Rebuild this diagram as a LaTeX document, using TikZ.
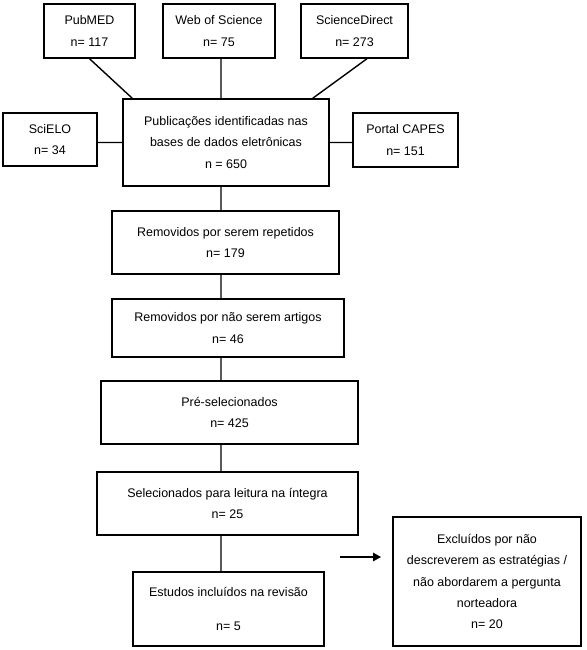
\documentclass[tikz,border=0pt]{standalone}
\usepackage{fontspec}
\setmainfont{Liberation Sans}
\usepackage{tikz}
\usetikzlibrary{arrows.meta, positioning}

\begin{document}
\begin{tikzpicture}[x=0.02cm, y=-0.02cm, line width=0.8pt,
        box/.style={draw, align=center, inner sep=0pt,
            font=\fontsize{7.1}{12.2}\selectfont},
        link/.style={draw, line width=0.8pt}]
        \useasboundingbox (0,0) rectangle (586,650);
        \coordinate (spine) at (221,0);

        % bases de dados
        \node[box, minimum width=1.82cm, minimum height=1.08cm] (pub) at (89.5,31) {PubMED\\n= 117};
        \node[box, minimum width=2.24cm, minimum height=1.08cm] (wos) at (219,31) {Web of Science\\n= 75};
        \node[box, minimum width=2.14cm, minimum height=1.08cm] (sd) at (354.5,31) {ScienceDirect\\n= 273};
        \node[box, minimum width=1.88cm, minimum height=1.06cm] (sci) at (50,139.5) {SciELO\\n= 34};
        \node[box, minimum width=2.10cm, minimum height=1.08cm] (cap) at (405.5,140) {Portal CAPES\\n= 151};
        \node[box, minimum width=4.12cm, minimum height=1.74cm] (ident) at (226,142.5) {Publicações identificadas nas\\bases de dados eletrônicas\\n = 650};

        % triagem
        \node[box, minimum width=4.54cm, minimum height=1.26cm] (rep) at (225.5,242.5) {Removidos por serem repetidos\\n= 179};
        \node[box, minimum width=4.64cm, minimum height=1.16cm] (nart) at (228,328) {Removidos por não serem artigos\\n= 46};
        \node[box, minimum width=5.14cm, minimum height=1.26cm] (pre) at (229.5,412.5) {Pré-selecionados\\n= 425};
        \node[box, minimum width=5.22cm, minimum height=1.26cm] (sel) at (227.5,503.5) {Selecionados para leitura na íntegra\\n= 25};
        \node[box, minimum width=3.82cm, minimum height=1.48cm] (incl) at (228.5,609) {Estudos incluídos na revisão\\[0.25cm]n= 5};
        \node[box, minimum width=3.76cm, minimum height=2.58cm] (excl) at (487,581.5) {Excluídos por não\\descreverem as estratégias /\\não abordarem a pergunta\\norteadora\\n= 20};

        \coordinate (exa) at (340,557);
        \coordinate (exb) at (381,557);

        \path[link]
        (pub.south) -- ([xshift=0.2cm]ident.north west)
        (wos.south -| spine) -- (ident.north -| spine)
        ([xshift=0.25cm]sd.south) -- ([xshift=-0.34cm]ident.north east)
        (sci.east |- ident.west) -- (ident.west)
        (ident.east) -- (cap.west |- ident.east)
        (ident.south -| spine) -- (rep.north -| spine)
        (rep.south -| spine) -- (nart.north -| spine)
        (nart.south -| spine) -- (pre.north -| spine)
        (pre.south -| spine) -- (sel.north -| spine)
        (sel.south -| spine) -- (incl.north -| spine);
        \draw[-{Triangle[length=4.5pt,width=4.8pt]}] (exa) -- (exb);

    \end{tikzpicture}
\end{document}
